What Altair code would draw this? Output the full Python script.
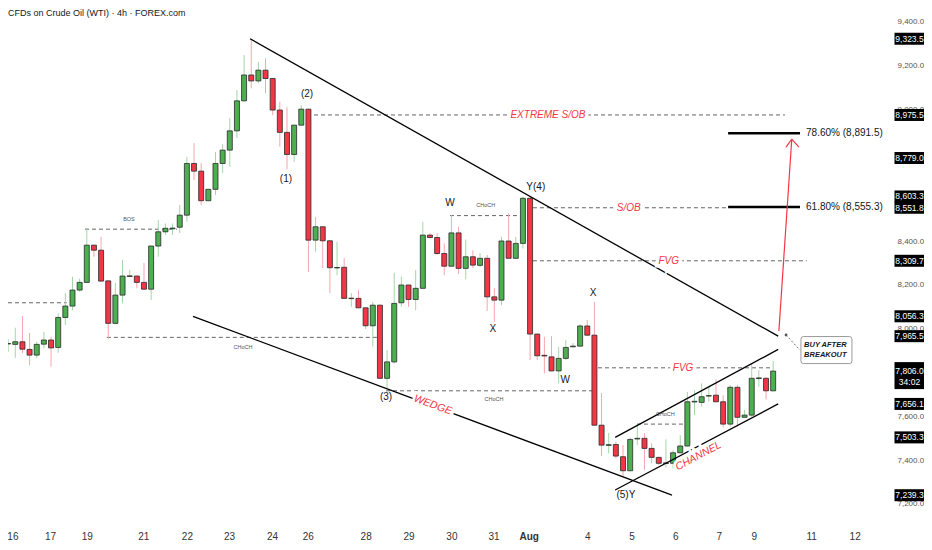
import altair as alt
import pandas as pd

FONT = "Liberation Sans, Arial, sans-serif"

# ---------------- candles (4h) ----------------
opens = [7990, 7930, 7928, 7940, 7905, 7879, 7929, 7948, 7914, 8051,
         8103, 8176, 8211, 8381, 8358, 8218, 8024, 8153, 8238, 8240,
         8211, 8180, 8377, 8442, 8456, 8463, 8518, 8754, 8719, 8584,
         8636, 8754, 8815, 8903, 9040, 9158, 9131, 9180, 9142, 8998,
         8896, 8795, 8929, 9002, 8404, 8465, 8401, 8277, 8280, 8137,
         8138, 8095, 8013, 8107, 7773, 7848, 8118, 8199, 8133, 8184,
         8427, 8416, 8343, 8285, 8437, 8275, 8328, 8289, 8321, 8145,
         8130, 8400, 8321, 8389, 8595, 7975, 7878, 7871, 7807, 7864,
         7917, 7920, 8012, 7970, 7559, 7467, 7471, 7415, 7351, 7496,
         7499, 7453, 7412, 7384, 7385, 7433, 7464, 7665, 7663, 7692,
         7696, 7666, 7564, 7732, 7595, 7605, 7772, 7773, 7716]
highs = [8012, 7952, 8004, 8057, 7980, 7940, 7985, 7963, 8069, 8162,
         8237, 8229, 8459, 8383, 8419, 8220, 8208, 8313, 8267, 8242,
         8299, 8379, 8495, 8480, 8480, 8564, 8784, 8847, 8756, 8637,
         8807, 8842, 8961, 9089, 9249, 9323.5, 9218, 9234, 9143, 9036,
         9011, 8930, 9020, 9004, 8510, 8467, 8402, 8396, 8322, 8162,
         8176, 8096, 8122, 8109, 7902, 8255, 8237, 8200, 8267, 8488,
         8436, 8436, 8389, 8518, 8465, 8407, 8358, 8345, 8336, 8184,
         8419, 8526, 8419, 8603.3, 8603, 7977, 7963, 7966, 7917, 7948,
         7934, 8020, 8039, 8122, 7706, 7524, 7483, 7468, 7503, 7564,
         7522, 7476, 7415, 7494, 7445, 7514, 7711, 7719, 7750, 7734,
         7768, 7696, 7742, 7742, 7628, 7841, 7811, 7780, 7853]
lows = [7893, 7893, 7867, 7888, 7833, 7864, 7910, 7826, 7890, 8016,
        8084, 8168, 8208, 8328, 8215, 7955, 8022, 8116, 8235, 8184,
        8178, 8130, 8328, 8427, 8427, 8436, 8488, 8678, 8564, 8583,
        8610, 8711, 8739, 8870, 9036, 9097, 9120, 9074, 8975, 8830,
        8727, 8762, 8928, 8259, 8351, 8276, 8162, 8244, 8136, 8100,
        8094, 7998, 7917, 7770, 7718, 7841, 8100, 8100, 8084, 8183,
        8412, 8336, 8244, 8284, 8249, 8225, 8276, 8281, 8081, 8031,
        8107, 8320, 8318, 8366, 7856, 7856, 7795, 7805, 7750, 7856,
        7914, 7917, 7966, 7557, 7418, 7430, 7407, 7323, 7350, 7468,
        7354, 7385, 7377, 7366, 7362, 7432, 7462, 7605, 7643, 7666,
        7664, 7549, 7552, 7552, 7593, 7597, 7734, 7677, 7714]
closes = [7925, 7932, 7940, 7906, 7879, 7928, 7948, 7912, 8051, 8103,
          8176, 8211, 8381, 8358, 8217, 8024, 8153, 8240, 8241, 8211,
          8180, 8377, 8442, 8458, 8459, 8518, 8754, 8719, 8584, 8636,
          8754, 8815, 8903, 9040, 9158, 9131, 9180, 9142, 8998, 8896,
          8795, 8929, 9002, 8404, 8465, 8401, 8278, 8279, 8138, 8139,
          8095, 8013, 8107, 7773, 7848, 8115, 8199, 8133, 8184, 8427,
          8416, 8343, 8285, 8437, 8275, 8328, 8290, 8321, 8145, 8130,
          8400, 8321, 8389, 8595, 7975, 7876, 7875, 7807, 7864, 7914,
          7920, 8012, 7970, 7559, 7468, 7470, 7418, 7351, 7494, 7499,
          7453, 7412, 7385, 7387, 7433, 7464, 7666, 7668, 7689, 7694,
          7666, 7564, 7732, 7595, 7605, 7773, 7775, 7716, 7806]
candle_n = list(range(1, len(opens) + 1))

# ---------------- axes ----------------
day_ticks = [2.6, 7.85, 13.0, 20.9, 27.0, 32.9, 38.9, 43.9, 52.0, 58.0,
             64.0, 69.9, 74.8, 83.0, 89.2, 95.3, 101.4, 106.3, 114.3, 120.4]
day_labels = ["16", "17", "19", "21", "22", "23", "24", "26", "28", "29",
              "30", "31", "Aug", "4", "5", "6", "7", "9", "11", "12"]
price_ticks = [7200, 7400, 7600, 8000, 8200, 8400, 9000, 9200, 9400]
tag_prices = [9323.5, 8975.5, 8779.0, 8603.3, 8551.8, 8309.7, 8056.3, 7965.5,
              7656.1, 7503.3, 7239.3]
last_price = [7806.0]
countdown = ["34:02"]

# ---------------- drawings ----------------
trend_x = [35.83, 27.85, 86.9, 86.9]
trend_y = [9323.5, 8056.3, 7503.3, 7263.0]
trend_x2 = [109.7, 94.85, 109.7, 109.7]
trend_y2 = [7965.5, 7239.3, 7905.0, 7656.1]

level_x = [1.0, 12.75, 15.8, 43.8, 75.4, 75.4, 63.8, 54.85, 84.5, 89.95]
level_x2 = [10.2, 25.6, 54.0, 110.65, 102.7, 113.7, 73.3, 83.8, 109.0, 96.66]
level_price = [8118, 8454, 7960, 8975.5, 8551.8, 8309.7, 8516, 7716, 7821, 7564]

fib_x = [102.7, 102.7]
fib_x2 = [112.75, 112.75]
fib_price = [8891.5, 8555.3]
fib_text = ["78.60% (8,891.5)", "61.80% (8,555.3)"]
fib_text_x = [113.6, 113.6]

arrow_x = [109.8, 110.8, 112.6]
arrow_y = [7989, 8829, 8829]
arrow_x2 = [111.6, 111.6, 111.6]
arrow_y2 = [8865, 8865, 8865]

pointer_x = [110.8]
pointer_y = [7971]
pointer_x2 = [112.75]
pointer_y2 = [7902]

wave_text = ["(1)", "(2)", "(3)", "Y(4)", "(5)Y", "W", "X", "X", "W"]
wave_x = [40.86, 43.8, 54.85, 75.8, 88.4, 63.8, 69.8, 83.8, 79.9]
wave_y = [8683, 9071, 7688, 8647, 7240, 8574, 7998, 8163, 7765]

struct_text = ["BOS", "CHoCH", "CHoCH", "CHoCH", "CHoCH"]
struct_x = [18.9, 34.85, 68.8, 69.95, 93.9]
struct_y = [8500, 7916, 8564, 7679, 7610]

zone_text = ["EXTREME S/OB", "S/OB", "FVG", "FVG"]
zone_x = [77.5, 88.8, 94.4, 96.4]
zone_y = [8975.5, 8551.8, 8309.7, 7821]

pattern_text = ["WEDGE", "CHANNEL"]
pattern_x = [61.4, 98.55]
pattern_y = [7651, 7418]
pattern_angle = [20, 332]

note_text = ["BUY AFTER", "BREAKOUT"]
note_x = [116.3, 116.3]
note_y = [7924, 7879]
note_box_x = [116.45]
note_box_y = [7902]

# ---------------- frames ----------------
candles = pd.DataFrame({"n": candle_n, "o": opens, "h": highs, "l": lows, "c": closes})
candles["dir"] = ["up" if c >= o else "down" for o, c in zip(opens, closes)]

xs = alt.Scale(domain=[1.98, 125.76], nice=False, zero=False, padding=0)
ys = alt.Scale(domain=[7117, 9463.9], nice=False, zero=False, padding=0)

x_axis = alt.Axis(
    orient="bottom", values=day_ticks,
    labelExpr=f"{day_labels}[indexof({day_ticks}, datum.value)]",
    ticks=False, domain=False, grid=False, labelPadding=9, labelFontSize=10,
    labelFont=FONT, labelColor="#333333", labelOverlap=False, labelFlush=False,
    labelFontWeight={"condition": {"test": "datum.value == 74.8", "value": "bold"}, "value": "normal"},
    title=None,
)
y_axis = alt.Axis(
    orient="right", values=price_ticks, format=",.1f", ticks=False, domain=False,
    grid=False, labelPadding=4, labelFontSize=8, labelFont=FONT,
    labelColor="#555555", title=None,
)


def X(f):
    return alt.X(f, type="quantitative", scale=xs, axis=x_axis)


def Y(f):
    return alt.Y(f, type="quantitative", scale=ys, axis=y_axis)


wick_color = alt.Color("dir:N", scale=alt.Scale(domain=["up", "down"], range=["#a5d6a7", "#f7a5ad"]), legend=None)
body_color = alt.Color("dir:N", scale=alt.Scale(domain=["up", "down"], range=["#4caf50", "#f23645"]), legend=None)

wicks = alt.Chart(candles).mark_rule(strokeWidth=1, clip=True).encode(
    x=X("n"), y=Y("l"), y2="h", color=wick_color)
bodies = alt.Chart(candles).mark_bar(size=5, stroke="#2a2a2a", strokeWidth=0.8, clip=True).encode(
    x=X("n"), y=Y("o"), y2="c", fill=body_color)

levels = pd.DataFrame({"x": level_x, "x2": level_x2, "p": level_price})
level_layer = alt.Chart(levels).mark_rule(color="#666666", strokeWidth=1, strokeDash=[4, 3], clip=True).encode(
    x=X("x"), x2="x2", y=Y("p"))

trends = pd.DataFrame({"x": trend_x, "y": trend_y, "x2": trend_x2, "y2": trend_y2})
trend_layer = alt.Chart(trends).mark_rule(color="#000000", strokeWidth=1.3, clip=True).encode(
    x=X("x"), y=Y("y"), x2="x2", y2="y2")

fibs = pd.DataFrame({"x": fib_x, "x2": fib_x2, "p": fib_price, "t": fib_text, "tx": fib_text_x})
fib_layer = alt.Chart(fibs).mark_rule(color="#000000", strokeWidth=2.5).encode(
    x=X("x"), x2="x2", y=Y("p"))
fib_text_layer = alt.Chart(fibs).mark_text(align="left", baseline="middle", fontSize=10,
                                           font=FONT, color="#131722").encode(
    x=X("tx"), y=Y("p"), text="t:N")

arrows = pd.DataFrame({"x": arrow_x, "y": arrow_y, "x2": arrow_x2, "y2": arrow_y2})
arrow_layer = alt.Chart(arrows).mark_rule(color="#f23645", strokeWidth=1.2).encode(
    x=X("x"), y=Y("y"), x2="x2", y2="y2")

pointers = pd.DataFrame({"x": pointer_x, "y": pointer_y, "x2": pointer_x2, "y2": pointer_y2})
pointer_layer = alt.Chart(pointers).mark_rule(color="#777777", strokeWidth=1, strokeDash=[2, 2]).encode(
    x=X("x"), y=Y("y"), x2="x2", y2="y2")
pointer_dot = alt.Chart(pointers).mark_point(filled=True, size=8, color="#555555", opacity=1).encode(
    x=X("x"), y=Y("y"))

waves = pd.DataFrame({"t": wave_text, "x": wave_x, "y": wave_y})
wave_layer = alt.Chart(waves).mark_text(fontSize=10, font=FONT, color="#131722", fontWeight=500).encode(
    x=X("x"), y=Y("y"), text="t:N")

structs = pd.DataFrame({"t": struct_text, "x": struct_x, "y": struct_y})
struct_layer = alt.Chart(structs).mark_text(fontSize=5.5, font=FONT, color="#555555").encode(
    x=X("x"), y=Y("y"), text="t:N")

zones = pd.DataFrame({"t": zone_text, "x": zone_x, "y": zone_y})
zone_halo = alt.Chart(zones).mark_text(fontSize=10, font=FONT, fontStyle="italic", color="white",
                                       stroke="white", strokeWidth=7).encode(
    x=X("x"), y=Y("y"), text="t:N")
zone_layer = alt.Chart(zones).mark_text(fontSize=10, font=FONT, fontStyle="italic", color="#f23645").encode(
    x=X("x"), y=Y("y"), text="t:N")

patterns = pd.DataFrame({"t": pattern_text, "x": pattern_x, "y": pattern_y, "a": pattern_angle})
pattern_halo = alt.Chart(patterns).mark_text(fontSize=10.5, font=FONT, fontStyle="italic", color="white",
                                             stroke="white", strokeWidth=6).encode(
    x=X("x"), y=Y("y"), text="t:N", angle=alt.Angle("a:Q", scale=None))
pattern_layer = alt.Chart(patterns).mark_text(fontSize=10.5, font=FONT, fontStyle="italic", color="#f23645").encode(
    x=X("x"), y=Y("y"), text="t:N", angle=alt.Angle("a:Q", scale=None))

ROUND_BOX = ("M-0.9,-0.53 L0.9,-0.53 Q1,-0.53 1,-0.43 L1,0.43 Q1,0.53 0.9,0.53 "
             "L-0.9,0.53 Q-1,0.53 -1,0.43 L-1,-0.43 Q-1,-0.53 -0.9,-0.53 Z")
note_box = pd.DataFrame({"x": note_box_x, "y": note_box_y})
note_box_layer = alt.Chart(note_box).mark_point(shape=ROUND_BOX, size=2601, filled=True, fill="white",
                                                stroke="#9a9a9a", strokeWidth=1, opacity=1).encode(
    x=X("x"), y=Y("y"))
notes = pd.DataFrame({"t": note_text, "x": note_x, "y": note_y})
note_layer = alt.Chart(notes).mark_text(fontSize=7.5, font=FONT, fontStyle="italic", fontWeight="bold",
                                        color="#131722").encode(
    x=X("x"), y=Y("y"), text="t:N")

TAG_X = 901.5
TAG = "M-1,-0.4 L1,-0.4 L1,0.4 L-1,0.4 Z"
TAG_TALL = "M-1,-0.6 L1,-0.6 L1,1.2 L-1,1.2 Z"
tags = pd.DataFrame({"p": tag_prices})
tag_box = alt.Chart(tags).mark_point(shape=TAG, size=900, filled=True, color="#000000", opacity=1).encode(
    x=alt.value(TAG_X), y=Y("p"))
tag_text = alt.Chart(tags).mark_text(fontSize=8.5, font=FONT, color="white").encode(
    x=alt.value(TAG_X), y=Y("p"), text=alt.Text("p:Q", format=",.1f"))

last = pd.DataFrame({"p": last_price, "cd": countdown})
last_box = alt.Chart(last).mark_point(shape=TAG_TALL, size=900, filled=True, color="#000000", opacity=1).encode(
    x=alt.value(TAG_X), y=Y("p"))
last_text = alt.Chart(last).mark_text(fontSize=8.5, font=FONT, color="white").encode(
    x=alt.value(TAG_X), y=Y("p"), text=alt.Text("p:Q", format=",.1f"))
last_cd = alt.Chart(last).mark_text(fontSize=8.5, font=FONT, color="white", dy=11).encode(
    x=alt.value(TAG_X), y=Y("p"), text="cd:N")

title_layer = alt.Chart(pd.DataFrame({"t": ["CFDs on Crude Oil (WTI) · 4h · FOREX.com"]})).mark_text(
    align="left", baseline="middle", fontSize=9, font=FONT, color="#131722", fontWeight=500).encode(
    x=alt.value(0), y=alt.value(5), text="t:N")

chart = alt.layer(
    level_layer, wicks, bodies, trend_layer, fib_layer, arrow_layer, pointer_layer, pointer_dot,
    wave_layer, struct_layer, zone_halo, zone_layer, pattern_halo, pattern_layer,
    fib_text_layer, note_box_layer, note_layer,
    tag_box, tag_text, last_box, last_text, last_cd, title_layer,
).properties(
    width=885, height=514,
    padding={"left": 0, "top": 0, "right": 31, "bottom": 20},
    autosize=alt.AutoSizeParams(type="none"),
    background="white",
).configure_view(stroke=None)

chart.save("out.html", embed_options={"renderer": "svg", "actions": False})
